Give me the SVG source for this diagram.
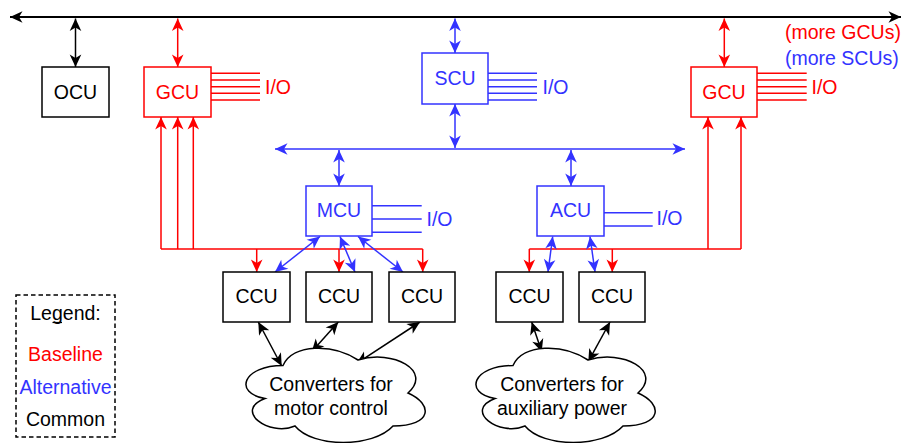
<svg xmlns="http://www.w3.org/2000/svg" width="902" height="443" viewBox="0 0 902 443">
<style>
text{font-family:"Liberation Sans",Arial,Helvetica,sans-serif;font-size:19.5px}
.c{text-anchor:middle}
.k{fill:#000}.r{fill:#FF0000}.b{fill:#3333FF}
.bx{stroke-width:1.5}
.kb{fill:#fff;stroke:#000}.rb{fill:#fff;stroke:#FF0000}.bb{fill:#fff;stroke:#3333FF}
.l{fill:none;stroke-width:1.5}
.lk{stroke:#000}.lr{stroke:#FF0000}.lb{stroke:#3333FF}
.ak{marker-start:url(#mk);marker-end:url(#mk)}
.ar{marker-end:url(#mr)}
.ar2{marker-start:url(#mr);marker-end:url(#mr)}
.ab{marker-start:url(#mb);marker-end:url(#mb)}
.io{fill:none;stroke-width:1.5}
</style>
<defs>
<marker id="mk" viewBox="-14 -7 15 14" refX="0" refY="0" markerWidth="15" markerHeight="14" markerUnits="userSpaceOnUse" orient="auto-start-reverse"><path d="M0,0 L-12.5,-5.8 L-9,0 L-12.5,5.8 Z" fill="#000"/></marker>
<marker id="mr" viewBox="-14 -7 15 14" refX="0" refY="0" markerWidth="15" markerHeight="14" markerUnits="userSpaceOnUse" orient="auto-start-reverse"><path d="M0,0 L-12.5,-5.8 L-9,0 L-12.5,5.8 Z" fill="#FF0000"/></marker>
<marker id="mb" viewBox="-14 -7 15 14" refX="0" refY="0" markerWidth="15" markerHeight="14" markerUnits="userSpaceOnUse" orient="auto-start-reverse"><path d="M0,0 L-12.5,-5.8 L-9,0 L-12.5,5.8 Z" fill="#3333FF"/></marker>
</defs>
<rect width="902" height="443" fill="#fff"/>

<g id="connectors">
  <!-- top bus -->
  <path class="l lk ak" style="stroke-width:2" d="M10,17 H901"/>
  <!-- blue bus -->
  <path class="l lb ab" d="M275,149 H685"/>
  <!-- bus drops -->
  <path class="l lk ak" d="M75.5,18.5 V67"/>
  <path class="l lr ar2" d="M177.7,18.5 V67"/>
  <path class="l lb ab" d="M455,18.5 V53"/>
  <path class="l lr ar2" d="M724.3,18.5 V67"/>
  <path class="l lb ab" d="M455,104 V148"/>
  <path class="l lb ab" d="M339,150 V186"/>
  <path class="l lb ab" d="M571,150 V186"/>
  <!-- red feedback to left GCU -->
  <path class="l lr ar" d="M161,249 V117"/>
  <path class="l lr ar" d="M177.7,249 V117"/>
  <path class="l lr ar" d="M193.3,249 V117"/>
  <path class="l lr" d="M161,249 H422.7"/>
  <path class="l lr ar" d="M256.7,249 V272"/>
  <path class="l lr ar" d="M339,249 V272"/>
  <path class="l lr ar" d="M422.7,249 V272"/>
  <!-- red feedback to right GCU -->
  <path class="l lr ar" d="M708,249 V117"/>
  <path class="l lr ar" d="M741,249 V117"/>
  <path class="l lr" d="M529.3,249 H741"/>
  <path class="l lr ar" d="M529.3,249 V272"/>
  <path class="l lr ar" d="M612.3,249 V272"/>
  <!-- MCU to CCUs -->
  <path class="l lb ab" d="M320,236.5 L275,272"/>
  <path class="l lb ab" d="M340,236.5 L355,272"/>
  <path class="l lb ab" d="M358,236.5 L403,272"/>
  <!-- ACU to CCUs -->
  <path class="l lb ab" d="M552.7,236.5 L548,272"/>
  <path class="l lb ab" d="M590,236.5 L595,272"/>
  <!-- CCUs to converters -->
  <path class="l lk ak" d="M258.3,322 L281.7,366"/>
  <path class="l lk ak" d="M338.3,322 L311.7,351.7"/>
  <path class="l lk ak" d="M420,322 L356.7,363.3"/>
  <path class="l lk ak" d="M531.7,322 L541.7,351.7"/>
  <path class="l lk ak" d="M610,322 L588.3,361.7"/>
</g>

<g id="ocu">
  <rect class="bx kb" x="42" y="67" width="67" height="50"/>
  <text class="c k" x="75.5" y="98.5">OCU</text>
</g>

<g id="gcu-left">
  <rect class="bx rb" x="144" y="67" width="67" height="50"/>
  <text class="c r" x="177.5" y="98.5">GCU</text>
  <path class="io lr" d="M211,73.3 H260 M211,80 H260 M211,86.7 H260 M211,93.3 H260 M211,100 H260"/>
  <text class="r" x="265" y="93.5">I/O</text>
</g>

<g id="scu">
  <rect class="bx bb" x="422" y="53" width="66" height="51"/>
  <text class="c b" x="455" y="85">SCU</text>
  <path class="io lb" d="M488,73.3 H537 M488,80 H537 M488,86.7 H537 M488,93.3 H537 M488,100 H537"/>
  <text class="b" x="542.5" y="93.5">I/O</text>
</g>

<g id="gcu-right">
  <rect class="bx rb" x="691" y="67" width="66" height="50"/>
  <text class="c r" x="724" y="98.5">GCU</text>
  <path class="io lr" d="M757,73.3 H806.7 M757,80 H806.7 M757,86.7 H806.7 M757,93.3 H806.7 M757,100 H806.7"/>
  <text class="r" x="811.5" y="93.5">I/O</text>
</g>

<g id="more-labels">
  <text class="r" x="785" y="39">(more GCUs)</text>
  <text class="b" x="785" y="65">(more SCUs)</text>
</g>

<g id="mcu">
  <rect class="bx bb" x="306" y="186" width="66" height="50"/>
  <text class="c b" x="339" y="217">MCU</text>
  <path class="io lb" d="M372,205.7 H421.7 M372,219 H421.7 M372,232.3 H421.7"/>
  <text class="b" x="426.5" y="225.5">I/O</text>
</g>

<g id="acu">
  <rect class="bx bb" x="537" y="186" width="67" height="50"/>
  <text class="c b" x="570.5" y="217">ACU</text>
  <path class="io lb" d="M604,212.7 H652.7 M604,226 H652.7"/>
  <text class="b" x="656.5" y="225">I/O</text>
</g>

<g id="ccu1">
  <rect class="bx kb" x="223" y="272" width="67" height="50"/>
  <text class="c k" x="256.5" y="303">CCU</text>
</g>
<g id="ccu2">
  <rect class="bx kb" x="306" y="272" width="66" height="50"/>
  <text class="c k" x="339" y="303">CCU</text>
</g>
<g id="ccu3">
  <rect class="bx kb" x="389" y="272" width="66" height="50"/>
  <text class="c k" x="422" y="303">CCU</text>
</g>
<g id="ccu4">
  <rect class="bx kb" x="496" y="272" width="67" height="50"/>
  <text class="c k" x="529.5" y="303">CCU</text>
</g>
<g id="ccu5">
  <rect class="bx kb" x="579" y="272" width="66" height="50"/>
  <text class="c k" x="612" y="303">CCU</text>
</g>

<g id="converters-motor">
  <path class="bx kb" d="M283,365.5 C243,365.5 233,393 265,398.5 C233,410.6 269,437 295,426 C313,448 373,448 393,426 C433,426 433,404 408,393 C433,371 393,349 358,360 C333,343.5 293,343.5 283,365.5 Z"/>
  <text class="c k" x="331" y="391">Converters for</text>
  <text class="c k" x="331" y="415">motor control</text>
</g>

<g id="converters-aux">
  <path class="bx kb" d="M513,365.5 C473,365.5 463,393 495,398.5 C463,410.6 499,437 525,426 C543,448 603,448 623,426 C663,426 663,404 638,393 C663,371 623,349 588,360 C563,343.5 523,343.5 513,365.5 Z"/>
  <text class="c k" x="562" y="391">Converters for</text>
  <text class="c k" x="562" y="415">auxiliary power</text>
</g>

<g id="legend">
  <rect x="16" y="295" width="99" height="142" fill="#fff" stroke="#000" stroke-width="1.5" stroke-dasharray="4.5 3"/>
  <text class="c k" x="65.5" y="320">Legend:</text>
  <path d="M52.5,322.5 H62" stroke="#000" stroke-width="1.2" fill="none"/>
  <text class="c r" x="65.5" y="361">Baseline</text>
  <text class="c b" x="65.5" y="393.5">Alternative</text>
  <text class="c k" x="65.5" y="426">Common</text>
</g>
</svg>
